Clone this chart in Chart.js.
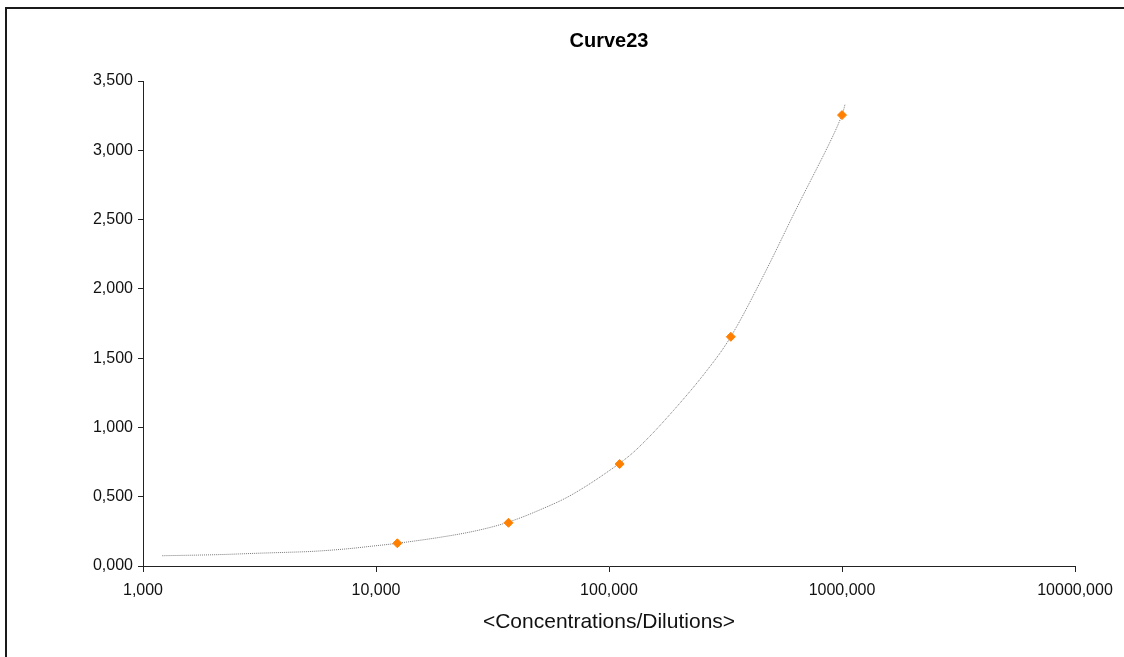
<!DOCTYPE html>
<html>
<head>
<meta charset="utf-8">
<script src="https://cdn.jsdelivr.net/npm/chart.js@4"></script>
<style>
    body { margin: 0; background: #fff; overflow: hidden; }
    #frame { position: absolute; left: 5px; top: 7px; width: 1200px; height: 700px; border: 2px solid #1a1a1a; }
    #wrap { position: absolute; left: 0; top: 0; width: 1124px; height: 657px; }
</style>
</head>
<body>
<div id="frame"></div>
<div id="wrap"><canvas id="curve-chart" width="1124" height="657"></canvas></div>
<script>
    // Points mesurés (dilutions x3)
    const concentrations = [12.35, 37.04, 111.1, 333.3, 1000];
    const signals = [0.164, 0.312, 0.736, 1.654, 3.254];

    // Courbe ajustée
    const fitX = [1.21, 2.1, 3.1, 4.2, 5.4, 7.4, 9.7, 12.35, 18.8, 27, 36.7, 50.5, 70.2, 110, 136, 189, 262, 333, 459, 639, 888, 1000, 1030];
    const fitY = [0.074, 0.082, 0.092, 0.099, 0.106, 0.123, 0.144, 0.164, 0.207, 0.255, 0.315, 0.405, 0.52, 0.736, 0.866, 1.122, 1.407, 1.654, 2.092, 2.583, 3.059, 3.254, 3.33];

    // Graduations
    const xTicks = [1, 10, 100, 1000, 10000];
    const yMin = 0, yMax = 3.5, yStep = 0.5;

    const fmt = v => Number(v).toFixed(3).replace('.', ',');
    const font = { family: '"Liberation Sans", Arial, sans-serif', size: 16 };

    const ctx = document.getElementById('curve-chart').getContext('2d');
    new Chart(ctx, {
        type: 'scatter',
        data: {
            datasets: [
                {
                    data: concentrations.map((x, i) => ({ x, y: signals[i] })),
                    pointStyle: 'rectRot',
                    pointRadius: 4.5,
                    pointBackgroundColor: '#ff8000',
                    pointBorderColor: '#ff8000',
                    pointBorderWidth: 1,
                    showLine: false
                },
                {
                    data: fitX.map((x, i) => ({ x, y: fitY[i] })),
                    showLine: true,
                    borderColor: '#777',
                    borderWidth: 1,
                    borderDash: [1, 1],
                    pointRadius: 0,
                    tension: 0.35,
                    fill: false
                }
            ]
        },
        options: {
            responsive: false,
            animation: false,
            layout: { padding: { left: 0, top: 0, right: 49, bottom: 0 } },
            plugins: {
                legend: { display: false },
                tooltip: { enabled: false },
                title: {
                    display: true,
                    text: 'Curve23',
                    color: '#000',
                    fullSize: false, // centré sur la zone du graphique
                    font: { family: font.family, size: 20, weight: 'bold' },
                    padding: { top: 29, bottom: 28 }
                }
            },
            scales: {
                x: {
                    type: 'logarithmic',
                    min: 1,
                    max: 10000,
                    afterBuildTicks: scale => { scale.ticks = xTicks.map(v => ({ value: v })); },
                    afterFit: scale => { scale.height = 91; },
                    border: { color: '#222', width: 1 },
                    grid: { drawOnChartArea: false, drawTicks: true, tickLength: 6, color: '#222' },
                    ticks: { color: '#111', font, padding: 9, autoSkip: false, maxRotation: 0, callback: v => fmt(v) },
                    title: {
                        display: true,
                        text: '<Concentrations/Dilutions>',
                        color: '#111',
                        font: { family: font.family, size: 21 },
                        padding: { top: 0, bottom: 22 }
                    }
                },
                y: {
                    min: yMin,
                    max: yMax,
                    afterFit: scale => { scale.width = 143; },
                    border: { color: '#222', width: 1 },
                    grid: { drawOnChartArea: false, drawTicks: true, tickLength: 5, color: '#222' },
                    ticks: { stepSize: yStep, color: '#111', font, padding: 5, callback: v => fmt(v) }
                }
            }
        }
    });
</script>
</body>
</html>
